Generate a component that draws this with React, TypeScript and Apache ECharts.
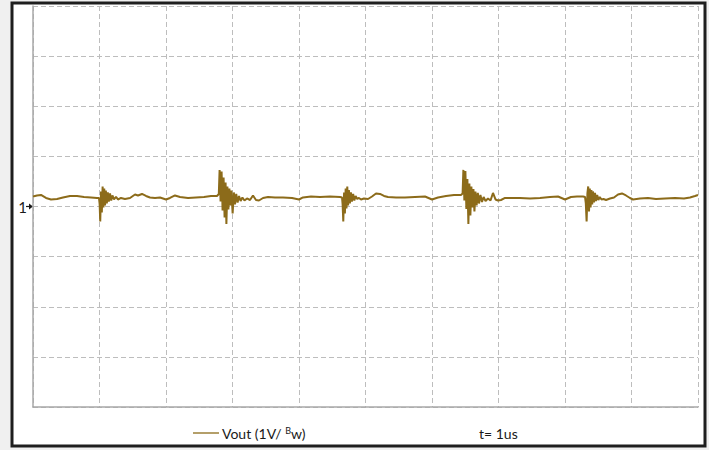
import React, { useEffect, useRef } from "react";
import * as echarts from "echarts";

// time (us), voltage (divisions above the "1" reference marker, 1 V/div)
const baseline0: [number, number][] = [
  [0, 0.2], [0.06, 0.22], [0.12, 0.23], [0.195, 0.17], [0.271, 0.14], [0.361, 0.15],
  [0.451, 0.18], [0.556, 0.21], [0.662, 0.21], [0.767, 0.19], [0.872, 0.18],
];
const burst1: [number, number][] = [
  [0.962, 0.17], [0.992, 0.17], [1.002, 0.05], [1.011, -0.3], [1.023, 0.3], [1.035, -0.12],
  [1.047, 0.4], [1.059, -0.02], [1.071, 0.36], [1.083, 0.02], [1.095, 0.32], [1.11, 0.06],
  [1.125, 0.28], [1.14, 0.1], [1.158, 0.26], [1.176, 0.12], [1.194, 0.22], [1.218, 0.14],
  [1.248, 0.19], [1.278, 0.14], [1.323, 0.17], [1.383, 0.15], [1.459, 0.17], [1.534, 0.24],
  [1.579, 0.22], [1.639, 0.25], [1.699, 0.21], [1.759, 0.18], [1.835, 0.17],
];
const baseline1: [number, number][] = [
  [1.91, 0.18], [2.0, 0.14], [2.06, 0.17], [2.135, 0.22], [2.211, 0.19], [2.331, 0.17],
  [2.451, 0.18], [2.571, 0.19], [2.677, 0.21],
];
const burst2: [number, number][] = [
  [2.767, 0.21], [2.794, 0.25], [2.806, 0.73], [2.821, 0.1], [2.836, 0.7], [2.851, -0.08],
  [2.866, 0.58], [2.881, -0.22], [2.896, 0.48], [2.908, -0.35], [2.923, 0.4], [2.938, -0.06],
  [2.953, 0.36], [2.968, 0.02], [2.983, 0.32], [3.002, -0.14], [3.02, 0.28], [3.038, 0.04],
  [3.056, 0.25], [3.077, 0.08], [3.098, 0.21], [3.122, 0.11], [3.149, 0.18], [3.18, 0.12],
  [3.218, 0.16], [3.263, 0.13], [3.308, 0.22], [3.353, 0.13], [3.398, 0.12], [3.459, 0.17],
  [3.534, 0.19], [3.639, 0.18],
];
const baseline2: [number, number][] = [
  [3.759, 0.18], [3.895, 0.17], [4.0, 0.14], [4.06, 0.18], [4.18, 0.2], [4.316, 0.19],
  [4.466, 0.2],
];
const burst3: [number, number][] = [
  [4.617, 0.19], [4.647, 0.18], [4.656, 0.04], [4.666, -0.3], [4.678, 0.28], [4.69, -0.14],
  [4.702, 0.36], [4.714, -0.04], [4.726, 0.4], [4.738, 0.02], [4.75, 0.33], [4.765, 0.06],
  [4.78, 0.28], [4.795, 0.1], [4.814, 0.25], [4.832, 0.12], [4.851, 0.21], [4.875, 0.15],
  [4.902, 0.17], [4.932, 0.14], [4.977, 0.16], [5.038, 0.15], [5.098, 0.2], [5.158, 0.26],
  [5.218, 0.25], [5.278, 0.21], [5.338, 0.19],
];
const baseline3: [number, number][] = [
  [5.459, 0.18], [5.594, 0.18], [5.744, 0.19], [5.895, 0.2], [6.0, 0.14], [6.09, 0.18],
  [6.211, 0.21], [6.331, 0.23],
];
const burst4: [number, number][] = [
  [6.436, 0.23], [6.46, 0.26], [6.472, 0.73], [6.487, 0.12], [6.502, 0.71], [6.517, -0.05],
  [6.532, 0.55], [6.547, -0.35], [6.562, 0.46], [6.577, -0.18], [6.592, 0.4], [6.607, -0.02],
  [6.623, 0.35], [6.638, -0.1], [6.653, 0.3], [6.671, 0.02], [6.689, 0.27], [6.707, 0.06],
  [6.728, 0.23], [6.752, 0.09], [6.776, 0.19], [6.805, 0.11], [6.842, 0.16], [6.88, 0.12],
  [6.917, 0.27], [6.955, 0.14], [6.992, 0.12], [7.038, 0.13], [7.098, 0.17], [7.203, 0.17],
];
const baseline4: [number, number][] = [
  [7.323, 0.17], [7.474, 0.16], [7.624, 0.17], [7.774, 0.19], [7.895, 0.2], [8.0, 0.14],
  [8.09, 0.19], [8.18, 0.2],
];
const burst5: [number, number][] = [
  [8.271, 0.2], [8.301, 0.19], [8.313, 0.06], [8.325, -0.3], [8.337, 0.26], [8.349, 0.4],
  [8.361, -0.1], [8.373, 0.36], [8.385, -0.02], [8.397, 0.33], [8.409, 0.04], [8.421, 0.3],
  [8.436, 0.08], [8.451, 0.27], [8.466, 0.11], [8.484, 0.23], [8.502, 0.13], [8.523, 0.19],
  [8.549, 0.14], [8.579, 0.15], [8.617, 0.13], [8.677, 0.16], [8.737, 0.18], [8.797, 0.24],
  [8.857, 0.26], [8.917, 0.22], [8.977, 0.17], [9.023, 0.14],
];
const baseline5: [number, number][] = [
  [9.128, 0.16], [9.248, 0.17], [9.368, 0.15], [9.504, 0.16], [9.654, 0.17], [9.789, 0.16],
  [9.88, 0.18], [9.955, 0.21], [10.0, 0.23],
];

const seriesName = "Vout (1V/ Bw)";
const timebase = "t= 1us";
const refLabel = "1";
const xRange = [0, 10];
const yRange = [-4, 4];

const FONT = "Lato, 'Open Sans', sans-serif";
const TRACE = "#8c6b1a";

export default function App() {
  const ref = useRef<HTMLDivElement>(null);
  useEffect(() => {
    if (!ref.current) return;
    const chart = echarts.init(ref.current, null, { renderer: "svg" });
    const vout = [
      ...baseline0, ...burst1, ...baseline1, ...burst2, ...baseline2, ...burst3,
      ...baseline3, ...burst4, ...baseline4, ...burst5, ...baseline5,
    ];
    const dashed = { color: "#bdbdbd", width: 1, type: [5, 3] as number[] };
    chart.setOption({
      animation: false,
      backgroundColor: "#f0f0f0",
      grid: { left: 33, right: 11, top: 6, bottom: 43, containLabel: false },
      xAxis: {
        type: "value",
        min: xRange[0],
        max: xRange[1],
        interval: 1,
        axisLine: { show: true, onZero: false, lineStyle: { color: "#a8a8a8", width: 1.5 } },
        axisTick: { show: false },
        axisLabel: { show: false },
        splitLine: { show: true, lineStyle: dashed },
      },
      yAxis: {
        type: "value",
        min: yRange[0],
        max: yRange[1],
        interval: 1,
        axisLine: { show: true, onZero: false, lineStyle: { color: "#a8a8a8", width: 1.5 } },
        axisTick: { show: false },
        axisLabel: {
          show: true,
          margin: 6,
          color: "#1a1a1a",
          fontSize: 15,
          fontFamily: FONT,
          formatter: (v: number) => (v === 0 ? refLabel : ""),
        },
        splitLine: { show: true, lineStyle: dashed },
      },
      legend: {
        show: true,
        left: 193,
        top: 426,
        padding: 0,
        itemWidth: 26,
        itemHeight: 1.3,
        itemGap: 0,
        selectedMode: false,
        textStyle: {
          color: "#1a1a1a",
          fontFamily: FONT,
          fontSize: 14,
          padding: [0, 0, 0, -2],
          rich: {
            a: { fontSize: 14, fontFamily: FONT, color: "#1a1a1a" },
            b: { fontSize: 9, fontFamily: FONT, color: "#1a1a1a", verticalAlign: "top" },
          },
        },
        formatter: () => "{a|Vout (1V/ }{b|B}{a|w)}",
        data: [{ name: seriesName, icon: "rect" }],
        itemStyle: { color: TRACE },
      },
      graphic: [
        {
          type: "rect",
          z: -10,
          silent: true,
          shape: { x: 12, y: 3, width: 693, height: 443 },
          style: { fill: "#ffffff", stroke: "#1e1e1e", lineWidth: 3 },
        },
        {
          type: "line",
          silent: true,
          shape: { x1: 26, y1: 206.5, x2: 31, y2: 206.5 },
          style: { stroke: "#1a1a1a", lineWidth: 1.2 },
        },
        {
          type: "polygon",
          silent: true,
          shape: { points: [[29, 203.5], [33, 206.5], [29, 209.5]] },
          style: { fill: "#1a1a1a" },
        },
        {
          type: "text",
          silent: true,
          x: 479,
          y: 433,
          style: {
            text: timebase,
            fill: "#1a1a1a",
            font: `14px ${FONT}`,
            verticalAlign: "middle",
          },
        },
      ],
      series: [
        {
          name: seriesName,
          type: "line",
          data: vout,
          symbol: "none",
          lineStyle: { color: TRACE, width: 2 },
          itemStyle: { color: TRACE },
          z: 5,
        },
      ],
    });
    return () => chart.dispose();
  }, []);
  return (
    <div
      ref={ref}
      style={{ position: "fixed", left: 0, top: 0, width: 709, height: 450 }}
    />
  );
}
